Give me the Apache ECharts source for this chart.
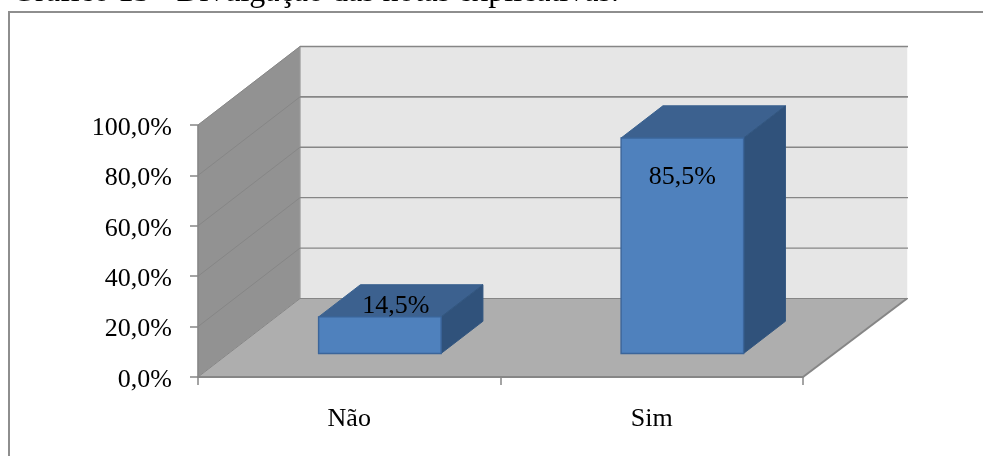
<!DOCTYPE html>
<html>
<head>
<meta charset="utf-8">
<style>html,body{margin:0;padding:0;background:#fff}#chart{width:983px;height:456px}</style>
<script src="https://cdn.jsdelivr.net/npm/echarts@6/dist/echarts.min.js"></script>
</head>
<body>
<div id="chart"></div>
<script>
// Survey answers, in percent
const categories = ['Não', 'Sim'];
const shares = [14.5, 85.5];
const valueTicks = [0, 20, 40, 60, 80, 100];
const chartTitle = 'Gráfico 13 - Divulgação das notas explicativas.';

// Oblique projection of the 3D box: how far the back of the floor shifts on screen
const DEPTH_X = 102, DEPTH_Y = -78.5;
// The far right corner sits slightly further out than the near one
const BACK_SPREAD = 2;
// Bars occupy this part of the floor's depth and this part of the category band
const BAR_DEPTH_START = 0.30, BAR_DEPTH_END = 0.71, BAR_WIDTH = 0.405;
// Data label nudges from the middle-top of each bar's front face
const labelNudge = [[16, -11], [0, 39]];

const FONT = '"Liberation Serif", "Times New Roman", serif';
const LINE = '#868686';

const fmtPct = v => v.toFixed(1).replace('.', ',') + '%';
const poly = (points, fill, stroke, lineWidth) => ({
  type: 'polygon',
  shape: { points },
  style: { fill, stroke: stroke || fill, lineWidth: lineWidth || 0.5 }
});
const seg = (a, b, width) => ({
  type: 'line',
  shape: { x1: a[0], y1: a[1], x2: b[0], y2: b[1] },
  style: { stroke: LINE, lineWidth: width || 1 }
});

// Walls, floor and gridlines of the 3D box
function renderBox(params, api) {
  const box = params.coordSys;
  const left = box.x, right = box.x + box.width;
  const zeroY = api.coord([0, 0])[1], topY = api.coord([0, 100])[1];
  const backL = y => [left + DEPTH_X, y + DEPTH_Y];
  const backR = y => [right + DEPTH_X + BACK_SPREAD, y + DEPTH_Y];
  const children = [
    poly([[left, topY], backL(topY), backL(zeroY), [left, zeroY]], '#929292'),
    poly([backL(topY), backR(topY), backR(zeroY), backL(zeroY)], '#e6e6e6'),
    poly([[left, zeroY], backL(zeroY), backR(zeroY), [right, zeroY]], '#aeaeae')
  ];
  valueTicks.forEach(t => {
    const y = api.coord([0, t])[1];
    const strong = t === 100 || t === 80 || t === 60;
    children.push(seg([left, y], backL(y), 1));
    children.push(seg(backL(y), [backR(y)[0] + 1, backR(y)[1]], strong ? 1.6 : 1.2));
  });
  children.push(seg(backL(topY), backL(zeroY), 1));
  children.push(seg([left, topY], [left, zeroY], 1.5));
  children.push(seg([right, zeroY], backR(zeroY), 2));
  return { type: 'group', children };
}

// One 3D bar: front face, top and side, drawn from the value through the axes
function renderBar(params, api) {
  const i = api.value(0), v = api.value(1);
  const base = api.coord([i, 0]), top = api.coord([i, v]);
  const band = api.size([1, 0])[0];
  const half = band * BAR_WIDTH / 2;
  const x0 = base[0] - half + DEPTH_X * BAR_DEPTH_START;
  const x1 = base[0] + half + DEPTH_X * BAR_DEPTH_START;
  const yb = base[1] + DEPTH_Y * BAR_DEPTH_START;
  const yt = top[1] + DEPTH_Y * BAR_DEPTH_START;
  const dx = DEPTH_X * (BAR_DEPTH_END - BAR_DEPTH_START);
  const dy = DEPTH_Y * (BAR_DEPTH_END - BAR_DEPTH_START);
  const nudge = labelNudge[i];
  return {
    type: 'group',
    children: [
      poly([[x0, yt], [x0 + dx, yt + dy], [x1 + dx, yt + dy], [x1, yt]], '#3c618f', '#39618f', 1),
      poly([[x1, yb], [x1, yt], [x1 + dx, yt + dy], [x1 + dx, yb + dy]], '#30527b', '#325680', 1),
      poly([[x0, yb], [x0, yt], [x1, yt], [x1, yb]], '#4f81bd', '#3b659a', 1.4),
      {
        type: 'text',
        style: {
          x: (x0 + x1) / 2 + nudge[0],
          y: yt + nudge[1],
          text: fmtPct(v),
          fill: '#000',
          font: '26px ' + FONT,
          align: 'center',
          verticalAlign: 'middle'
        }
      }
    ]
  };
}

const chart = echarts.init(document.getElementById('chart'), null, { renderer: 'canvas' });
chart.setOption({
  animation: false,
  backgroundColor: '#fff',
  title: {
    text: chartTitle,
    left: 12,
    top: -23,
    padding: 0,
    textStyle: { fontFamily: FONT, fontSize: 32, lineHeight: 32, fontWeight: 'normal', color: '#000' }
  },
  graphic: [{
    type: 'polyline',
    silent: true,
    shape: { points: [[9, 456], [9, 12], [983, 12]] },
    style: { fill: 'none', stroke: '#8e8e8e', lineWidth: 2 }
  }],
  grid: { left: 198, top: 125, width: 605, height: 252 },
  xAxis: {
    type: 'category',
    data: categories,
    z: 5,
    axisLine: { lineStyle: { color: LINE, width: 2 } },
    axisTick: { show: true, length: 8, lineStyle: { color: LINE, width: 1.5 } },
    axisLabel: { fontFamily: FONT, fontSize: 26, color: '#000', margin: 29 },
    splitLine: { show: false }
  },
  yAxis: {
    type: 'value',
    min: 0,
    max: 100,
    interval: 20,
    z: 5,
    axisLine: { show: false },
    axisTick: { show: true, length: 8, lineStyle: { color: LINE, width: 1.5 } },
    axisLabel: {
      margin: 26,
      formatter: v => '{pct|' + fmtPct(v) + '}',
      // Top padding drops the text a little below its tick
      rich: { pct: { fontFamily: FONT, fontSize: 26, color: '#000', padding: [6, 0, 0, 0] } }
    },
    splitLine: { show: false }
  },
  series: [
    { type: 'custom', name: 'box', silent: true, z: 1, clip: false, renderItem: renderBox, data: [[0, 100]] },
    { type: 'custom', name: 'shares', z: 2, clip: false, renderItem: renderBar,
      data: shares.map((v, i) => [i, v]) }
  ]
});
</script>
</body>
</html>
